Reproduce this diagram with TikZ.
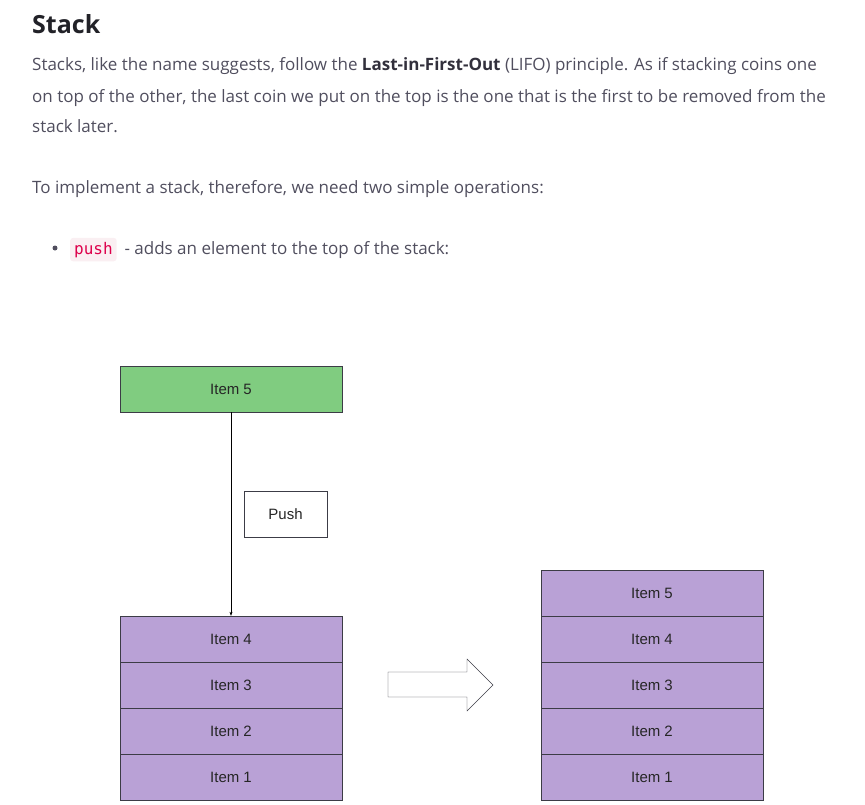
\documentclass[tikz,border=0pt]{standalone}
\usepackage{fontspec}
\setmainfont{Open Sans}
\newfontfamily\diafont{Liberation Sans}
\newfontfamily\codefont{DejaVu Sans Mono}
\usetikzlibrary{arrows.meta}
\definecolor{titlegray}{RGB}{34, 34, 40}
\definecolor{bodygray}{RGB}{80, 78, 94}
\definecolor{boldgray}{RGB}{50, 48, 60}
\definecolor{codered}{RGB}{221, 0, 75}
\definecolor{codebg}{RGB}{250, 239, 242}
\definecolor{edgegray}{RGB}{60, 60, 70}
\definecolor{itemgreen}{RGB}{128, 204, 128}
\definecolor{itempurple}{RGB}{185, 161, 214}

\begin{document}
\begin{tikzpicture}[x=1pt, y=-1pt,
  bodytext/.style={anchor=base west, inner sep=0pt, text=bodygray, font=\fontsize{17}{20}\selectfont},
  item/.style={draw=edgegray, fill=itempurple, minimum width=222pt, minimum height=46pt, inner sep=0pt, text=black!85, font=\diafont\fontsize{15}{18}\selectfont},
  newitem/.style={item, fill=itemgreen},
  opbox/.style={draw=edgegray, fill=white, minimum width=83pt, minimum height=46pt, inner sep=0pt, text=black!85, font=\diafont\fontsize{15}{18}\selectfont}]
\useasboundingbox (0,0) rectangle (865,804);

% Heading and text
\node[anchor=base west, inner sep=0pt, text=titlegray, font=\bfseries\fontsize{25}{30}\selectfont] (title) at (32,33) {Stack};
\node[bodytext] (line1) at (32,70) {Stacks, like the name suggests, follow the \textbf{\color{boldgray}Last-in-First-Out} (LIFO) principle. As if stacking coins one};
\node[bodytext] (line2) at (32,102) {on top of the other, the last coin we put on the top is the one that is the first to be removed from the};
\node[bodytext] (line3) at (32,132) {stack later.};
\node[bodytext] (line4) at (32,193) {To implement a stack, therefore, we need two simple operations:};

% Bullet for push
\fill[bodygray] (55,248) circle (2.5pt);
\node[anchor=base west, fill=codebg, rounded corners=3pt, inner xsep=4pt, inner ysep=4pt, text=codered, font=\codefont\fontsize{16}{19}\selectfont] (pushcode) at (70,254) {push};
\node[bodytext, anchor=base west] (line5) at ([xshift=3pt]pushcode.base east) {\ - adds an element to the top of the stack:};

% Stack before push
\node[newitem] (new5) at (231,389) {Item 5};
\foreach \n [count=\i] in {4,3,2,1}
  \node[item] (left\n) at (231,593+46*\i) {Item \n};
\node[opbox] (push) at (285.5,514) {Push};
\draw[-{Stealth[length=4pt,width=3pt]}, black] (new5.south) -- (left4.north);

% Arrow between the stacks
\draw[edgegray, fill=white] (388,672) -- (467,672) -- (467,659) -- (493,685) -- (467,711) -- (467,697) -- (388,697) -- cycle;

% Stack after push
\foreach \n in {1,...,5}
  \node[item] (right\n) at (652,777-46*\n+46) {Item \n};
\end{tikzpicture}
\end{document}
